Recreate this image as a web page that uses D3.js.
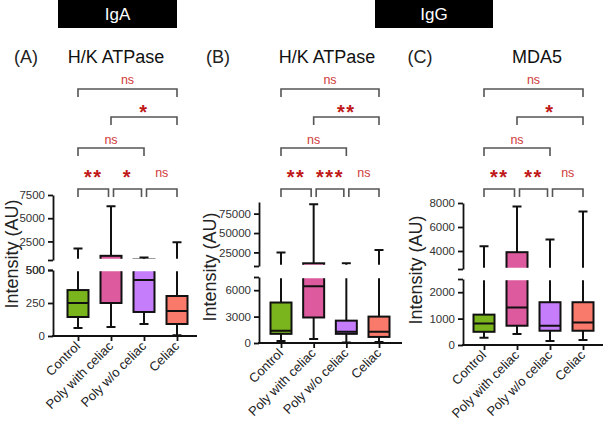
<!DOCTYPE html>
<html><head><meta charset="utf-8">
<script src="https://cdn.jsdelivr.net/npm/d3@7"></script>
<style>body{margin:0;background:#fff}svg{display:block;font-family:"Liberation Sans",Arial,Helvetica,sans-serif}</style>
</head><body><svg id="c" width="606" height="428"></svg>
<script>
const categories = ["Control", "Poly with celiac", "Poly w/o celiac", "Celiac"];
const boxColors = ["#7ab51d", "#dd5a9e", "#c57dfb", "#f9796a"];
// box statistics per category: [min, q1, median, q3, max]
const igaHK = [[60, 144, 250, 348, 1750], [68, 250, 500, 950, 6300], [90, 182, 424, 560, 760], [5, 91, 190, 303, 2400]];
const iggHK = [[230, 1040, 1385, 4600, 25000], [460, 2900, 6450, 11000, 87000], [50, 1040, 1270, 2540, 11000], [115, 690, 1270, 3000, 28000]];
const iggMDA5 = [[270, 500, 810, 1150, 4400], [420, 730, 1420, 3900, 7700], [150, 540, 730, 1620, 4950], [190, 540, 850, 1620, 7300]];
// axis segments (broken axis): domains and tick labels
const segA = {lower: [0, 500], upper: [500, 7500]};
const segB = {lower: [0, 7500], upper: [7500, 90000]};
const segC = {lower: [0, 2500], upper: [2500, 8000]};
const ticksA = {lower: [0, 250, 500], upper: [2500, 5000, 7500]};
const ticksB = {lower: [0, 3000, 6000], upper: [25000, 50000, 75000]};
const ticksC = {lower: [0, 1000, 2000], upper: [4000, 6000, 8000]};
// comparisons [i, j, label]
const compA = [[0, 3, "ns"], [1, 3, "*"], [0, 2, "ns"], [0, 1, "**"], [1, 2, "*"], [2, 3, "ns"]];
const compB = [[0, 3, "ns"], [1, 3, "**"], [0, 2, "ns"], [0, 1, "**"], [1, 2, "***"], [2, 3, "ns"]];
const compC = [[0, 3, "ns"], [1, 3, "*"], [0, 2, "ns"], [0, 1, "**"], [1, 2, "**"], [2, 3, "ns"]];
const compLevels = [0, 1, 2, 3, 3, 3];
const panelLetters = ["(A)", "(B)", "(C)"];
const panelTitles = ["H/K ATPase", "H/K ATPase", "MDA5"];
const headers = ["IgA", "IgG"];

const svg = d3.select("#c");

// header bars
const hdr = [{t: headers[0], x0: 58, x1: 177}, {t: headers[1], x0: 375, x1: 493}];
hdr.forEach(h => {
  svg.append("rect").attr("x", h.x0).attr("y", -2).attr("width", h.x1 - h.x0).attr("height", 30).attr("fill", "#000");
  svg.append("text").attr("x", (h.x0 + h.x1) / 2).attr("y", 20).attr("text-anchor", "middle")
    .attr("fill", "#fff").attr("font-size", 17).text(h.t);
});

const panels = [
  {data: igaHK, seg: segA, ticks: ticksA, comp: compA, ax: 53, axEnd: 197, xr: [78, 177], y0: 336, lowTop: 270, upBot: 260, upTop: 195,
   letterX: 26, titleX: 116, ytX: 12, ytY: 254},
  {data: iggHK, seg: segB, ticks: ticksB, comp: compB, ax: 259, axEnd: 402, xr: [281, 379], y0: 343, lowTop: 277, upBot: 266, upTop: 202,
   letterX: 218, titleX: 327, ytX: 210, ytY: 267},
  {data: iggMDA5, seg: segC, ticks: ticksC, comp: compC, ax: 463, axEnd: 603, xr: [484, 583], y0: 345, lowTop: 279, upBot: 269, upTop: 203,
   letterX: 420, titleX: 537, ytX: 416, ytY: 270}
];

const levelY = [89, 117, 148, 189];
const textOff = [9, 9, 8, 16];

panels.forEach((p, pi) => {
  const g = svg.append("g");
  const x = d3.scalePoint().domain(categories).range(p.xr);
  const yL = d3.scaleLinear().domain(p.seg.lower).range([p.y0, p.lowTop]);
  const yU = d3.scaleLinear().domain(p.seg.upper).range([p.upBot, p.upTop]);

  // titles
  g.append("text").attr("x", p.letterX).attr("y", 63).attr("text-anchor", "middle").attr("font-size", 18).attr("fill", "#222").text(panelLetters[pi]);
  g.append("text").attr("x", p.titleX).attr("y", 63).attr("text-anchor", "middle").attr("font-size", 18).attr("fill", "#111").text(panelTitles[pi]);
  g.append("text").attr("transform", `translate(${p.ytX},${p.ytY}) rotate(-90)`).attr("dy", "0.35em")
    .attr("text-anchor", "middle").attr("font-size", 18).attr("fill", "#222").text("Intensity (AU)");

  // clip paths for the two segments
  const cidL = "clipL" + pi, cidU = "clipU" + pi;
  const defs = svg.append("defs");
  defs.append("clipPath").attr("id", cidL).append("rect").attr("x", p.ax).attr("y", p.lowTop + 1.2).attr("width", p.axEnd - p.ax + 5).attr("height", p.y0 - p.lowTop + 10);
  defs.append("clipPath").attr("id", cidU).append("rect").attr("x", p.ax).attr("y", p.upTop - 10).attr("width", p.axEnd - p.ax + 5).attr("height", p.upBot - p.upTop + 8.8);

  const bw = 21, cw = 9;
  [[yL, cidL], [yU, cidU]].forEach(([ys, cid]) => {
    const sg = g.append("g").attr("clip-path", `url(#${cid})`);
    p.data.forEach((d, i) => {
      const cx = x(categories[i]);
      const [mn, q1, md, q3, mx] = d;
      const lg = sg.append("g").attr("stroke", "#111").attr("stroke-width", 2).attr("fill", "none");
      lg.append("line").attr("x1", cx).attr("x2", cx).attr("y1", ys(mn)).attr("y2", ys(q1));
      lg.append("line").attr("x1", cx).attr("x2", cx).attr("y1", ys(q3)).attr("y2", ys(mx));
      lg.append("line").attr("x1", cx - cw / 2).attr("x2", cx + cw / 2).attr("y1", ys(mn)).attr("y2", ys(mn));
      lg.append("line").attr("x1", cx - cw / 2).attr("x2", cx + cw / 2).attr("y1", ys(mx)).attr("y2", ys(mx));
      sg.append("rect").attr("x", cx - bw / 2).attr("y", ys(q3)).attr("width", bw).attr("height", ys(q1) - ys(q3))
        .attr("fill", boxColors[i]).attr("stroke", "#111").attr("stroke-width", 2);
      sg.append("line").attr("x1", cx - bw / 2).attr("x2", cx + bw / 2).attr("y1", ys(md)).attr("y2", ys(md))
        .attr("stroke", "#111").attr("stroke-width", 2);
    });
  });

  // y axes (broken)
  const fmt = d3.format("d");
  const aL = g.append("g").attr("transform", `translate(${p.ax},0)`)
    .call(d3.axisLeft(yL).tickValues([...p.ticks.lower, p.seg.lower[1]]).tickSize(5).tickSizeOuter(0)
      .tickFormat(v => p.ticks.lower.includes(v) ? fmt(v) : ""));
  const aU = g.append("g").attr("transform", `translate(${p.ax},0)`)
    .call(d3.axisLeft(yU).tickValues([p.seg.upper[0], ...p.ticks.upper]).tickSize(5).tickSizeOuter(0)
      .tickFormat(v => p.ticks.upper.includes(v) ? fmt(v) : ""));
  [aL, aU].forEach(a => {
    a.selectAll("path,line").attr("stroke", "#111").attr("stroke-width", 1.8);
    a.selectAll("text").attr("font-size", 11.5).attr("fill", "#333").attr("font-family", "Liberation Sans, Arial, sans-serif");
  });

  // x axis
  g.append("line").attr("x1", p.ax - 0.9).attr("x2", p.axEnd).attr("y1", p.y0).attr("y2", p.y0).attr("stroke", "#111").attr("stroke-width", 1.8);
  const ax = g.append("g").attr("transform", `translate(0,${p.y0})`)
    .call(d3.axisBottom(x).tickSize(5).tickSizeOuter(0).tickFormat(""));
  ax.select(".domain").remove();
  ax.selectAll("line").attr("stroke", "#111").attr("stroke-width", 1.8);
  categories.forEach(c => {
    g.append("text").attr("transform", `translate(${x(c) + 3},${p.y0 + 11}) rotate(-45)`)
      .attr("text-anchor", "end").attr("font-size", 13).attr("fill", "#222").text(c);
  });

  // significance brackets
  p.comp.forEach((c, k) => {
    const lvl = compLevels[k];
    const ly = levelY[lvl];
    let xa = x(categories[c[0]]), xb = x(categories[c[1]]);
    if (lvl === 3) { if (c[0] > 0) xa += 2.5; if (c[1] < 3) xb -= 2.5; }
    g.append("path").attr("d", `M${xa},${ly + 8}V${ly}H${xb}V${ly + 8}`)
      .attr("fill", "none").attr("stroke", "#555").attr("stroke-width", 1.6);
    const cyT = ly - textOff[lvl];
    const isStar = c[2].includes("*");
    g.append("text").attr("x", (xa + xb) / 2).attr("y", isStar ? cyT + 11 : cyT + 4)
      .attr("text-anchor", "middle")
      .attr("font-size", isStar ? 20 : 12.5)
      .attr("font-weight", isStar ? "bold" : "normal")
      .attr("letter-spacing", isStar ? 1.5 : 0)
      .attr("fill", isStar ? "#c01818" : "#d03a3a").text(c[2]);
  });
});
</script></body></html>
